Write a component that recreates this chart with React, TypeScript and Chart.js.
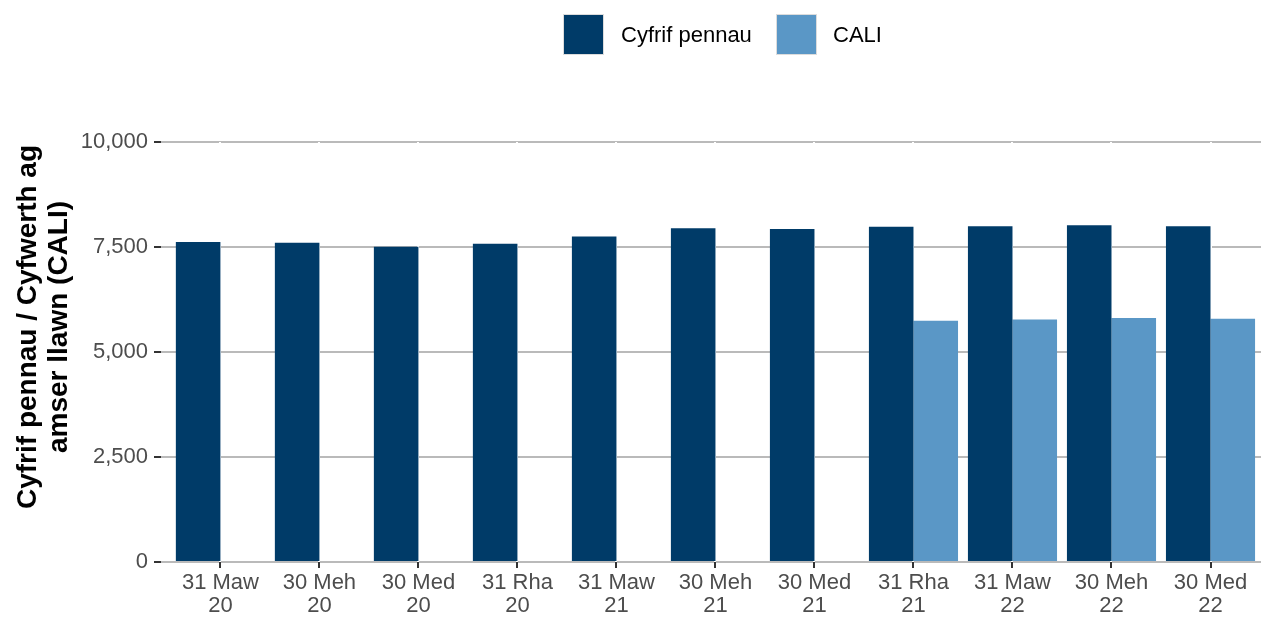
import React, { useEffect, useRef } from "react";
import { Chart, registerables } from "chart.js";

Chart.register(...registerables);

const categories: string[][] = [
  ["31 Maw", "20"],
  ["30 Meh", "20"],
  ["30 Med", "20"],
  ["31 Rha", "20"],
  ["31 Maw", "21"],
  ["30 Meh", "21"],
  ["30 Med", "21"],
  ["31 Rha", "21"],
  ["31 Maw", "22"],
  ["30 Meh", "22"],
  ["30 Med", "22"],
];
const headcount: number[] = [7620, 7600, 7505, 7580, 7750, 7945, 7930, 7980, 7995, 8015, 7995];
const fte: (number | null)[] = [null, null, null, null, null, null, null, 5745, 5775, 5810, 5790];
const seriesNames = ["Cyfrif pennau", "CALI"];
const seriesColors = ["#003b68", "#5a97c6"];
const yTicks = [0, 2500, 5000, 7500, 10000];
const yTitle = ["Cyfrif pennau / Cyfwerth ag", "amser llawn (CALI)"];

const FONT = "'Liberation Sans', Arial, sans-serif";

export default function App() {
  const ref = useRef<HTMLCanvasElement | null>(null);

  useEffect(() => {
    if (!ref.current) return;
    const titlePlugin = {
      id: "yTitleText",
      afterDraw(chart: any) {
        const ctx = chart.ctx as CanvasRenderingContext2D;
        ctx.save();
        ctx.fillStyle = "#000000";
        ctx.font = `bold 28px ${FONT}`;
        ctx.textAlign = "center";
        ctx.textBaseline = "middle";
        ctx.translate(0, 327);
        ctx.rotate(-Math.PI / 2);
        yTitle.forEach((t, i) => ctx.fillText(t, 0, 28 + i * 31));
        ctx.restore();
      },
    };

    const chart = new Chart(ref.current, {
      type: "bar",
      data: {
        datasets: [
          {
            label: seriesNames[0],
            data: headcount.map((y, i) => ({ x: i, y })),
            backgroundColor: seriesColors[0],
            borderWidth: 0,
            categoryPercentage: 0.9,
            barPercentage: 1,
          },
          {
            label: seriesNames[1],
            data: fte.map((y, i) => ({ x: i, y })),
            backgroundColor: seriesColors[1],
            borderWidth: 0,
            categoryPercentage: 0.9,
            barPercentage: 1,
          },
        ],
      },
      options: {
        animation: false,
        responsive: false,
        maintainAspectRatio: false,
        layout: { padding: { top: 142, right: 0, left: 0, bottom: 0 } },
        plugins: {
          legend: { display: false },
          tooltip: { enabled: false },
        },
        scales: {
          x: {
            type: "linear",
            min: -0.6,
            max: 10.51,
            offset: false,
            afterBuildTicks: (axis: any) => {
              axis.ticks = categories.map((_, i) => ({ value: i }));
            },
            afterFit: (s: any) => {
              s.height = 55;
            },
            grid: {
              offset: false,
              color: "#ffffff",
              lineWidth: 2,
              z: -1,
              drawTicks: true,
              tickLength: 6,
              tickColor: "#333333",
              tickWidth: 2,
            },
            border: { display: false },
            ticks: {
              callback: (v: any) => categories[v as number],
              font: { family: FONT, size: 22, lineHeight: 1.05 },
              color: "#4d4d4d",
              padding: 3,
              maxRotation: 0,
              autoSkip: false,
            },
          },
          y: {
            min: 0,
            max: 10000,
            afterBuildTicks: (axis: any) => {
              axis.ticks = yTicks.map((v) => ({ value: v }));
            },
            afterFit: (s: any) => {
              s.width = 161;
            },
            grid: {
              color: "#bababa",
              lineWidth: 2,
              z: -2,
              tickLength: 7,
              tickColor: "#333333",
              tickWidth: 2,
            },
            border: { display: false },
            ticks: {
              callback: (v: any) => Number(v).toLocaleString("en-US"),
              font: { family: FONT, size: 22 },
              color: "#4d4d4d",
              padding: 6,
            },
          },
        },
      } as any,
      plugins: [titlePlugin],
    });
    return () => chart.destroy();
  }, []);

  const legendItems = [
    { box: 563, text: 621 },
    { box: 776, text: 833 },
  ];

  return (
    <div style={{ position: "absolute", left: 0, top: 0, width: 1261, height: 617, background: "#ffffff", overflow: "hidden" }}>
      <canvas ref={ref} width={1261} height={617} style={{ position: "absolute", left: 0, top: 0 }} />
      {legendItems.map((it, i) => (
        <React.Fragment key={i}>
          <div
            style={{
              position: "absolute",
              left: it.box,
              top: 14,
              width: 41,
              height: 41,
              boxSizing: "border-box",
              border: "1px solid #dcdcdc",
              background: seriesColors[i],
            }}
          />
          <div
            style={{
              position: "absolute",
              left: it.text,
              top: 14,
              height: 41,
              lineHeight: "41px",
              fontFamily: FONT,
              fontSize: 22,
              color: "#000000",
              whiteSpace: "nowrap",
            }}
          >
            {seriesNames[i]}
          </div>
        </React.Fragment>
      ))}
    </div>
  );
}
